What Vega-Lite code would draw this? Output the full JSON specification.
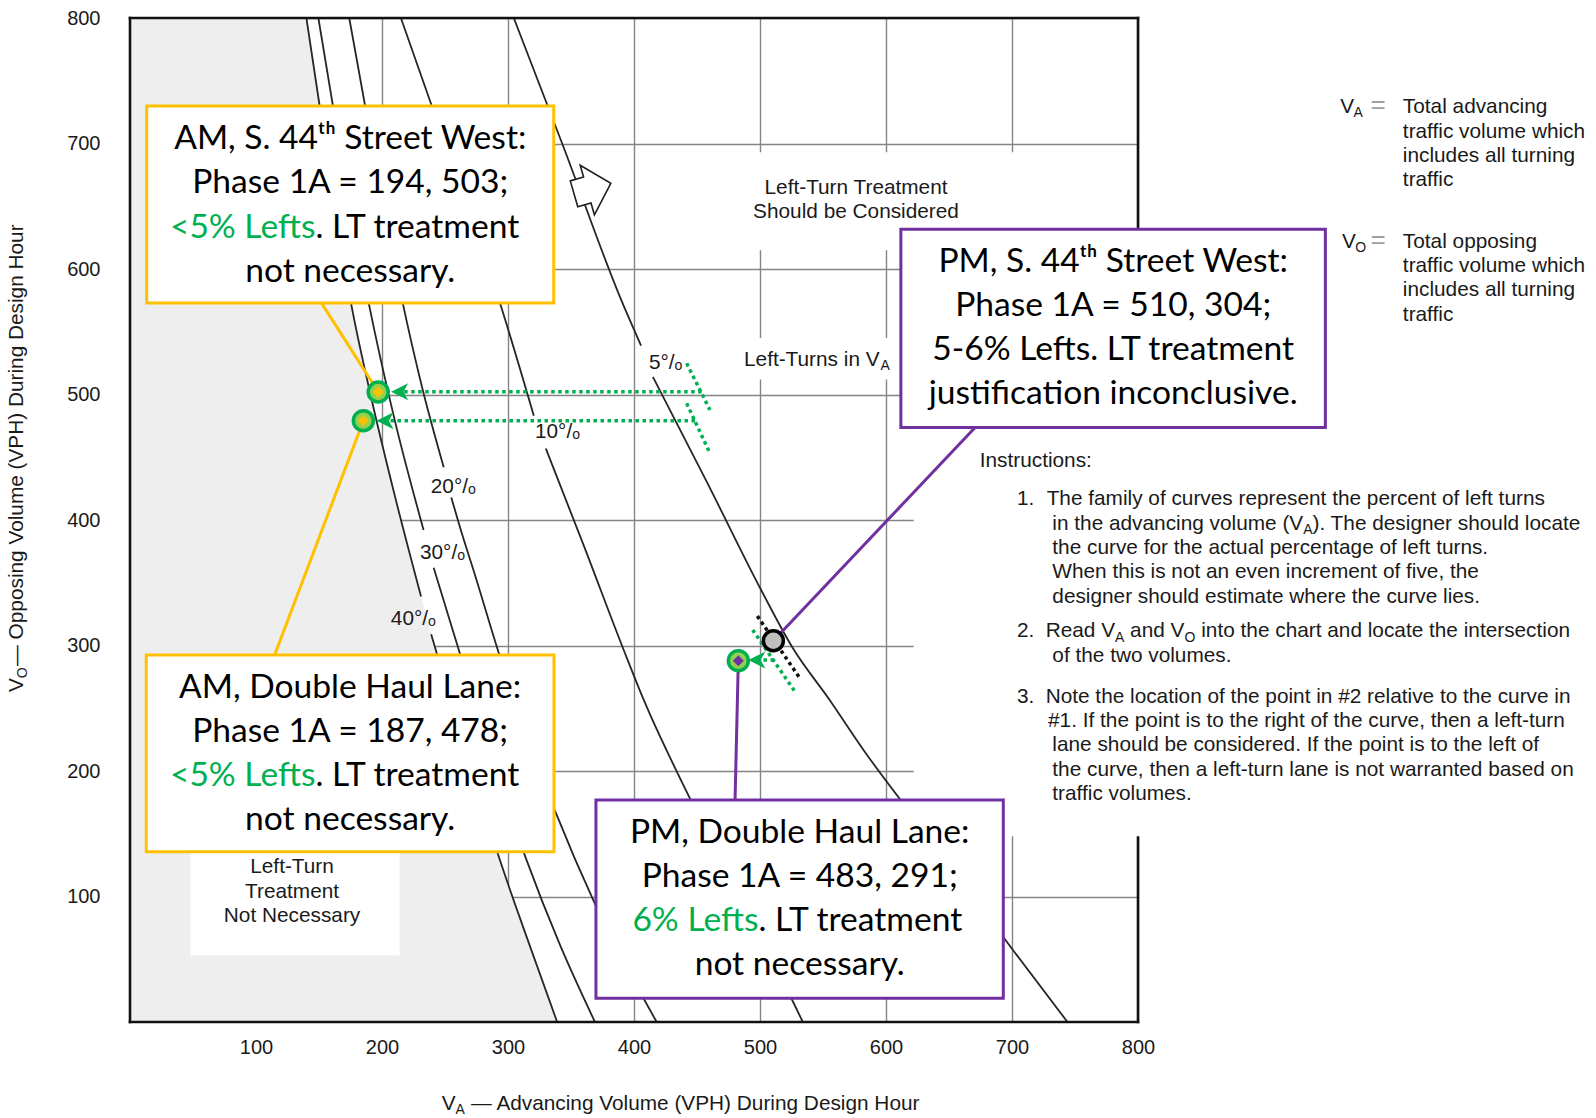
{
  "$schema": "https://vega.github.io/schema/vega-lite/v6.json",
  "width": 1008,
  "height": 1004,
  "autosize": {"type": "none"},
  "padding": {"left": 130, "top": 18, "right": 458, "bottom": 96},
  "background": "white",
  "config": {
    "view": {"stroke": null},
    "axis": {
      "grid": true, "ticks": false, "domain": false,
      "gridColor": "#858585", "gridWidth": 1.4, "gridOpacity": 1,
      "labelFont": "Liberation Sans", "labelFontSize": 20, "labelColor": "#1a1a1a",
      "title": null
    }
  },
  "encoding": {
    "x": {"field": "x", "type": "quantitative",
      "scale": {"domain": [0, 800], "nice": false, "zero": false},
      "axis": {"values": [100, 200, 300, 400, 500, 600, 700, 800], "labelPadding": 15, "labelFlush": false}},
    "y": {"field": "y", "type": "quantitative",
      "scale": {"domain": [0, 800], "nice": false, "zero": false},
      "axis": {"values": [100, 200, 300, 400, 500, 600, 700, 800], "labelPadding": 30, "labelFlush": false}}
  },
  "layer": [
    {
      "data": {"values": [
        {"x": 140, "y": 800}, {"x": 155, "y": 700}, {"x": 175, "y": 575}, {"x": 192, "y": 495},
        {"x": 210, "y": 420}, {"x": 231, "y": 339}, {"x": 239, "y": 309}, {"x": 246, "y": 285},
        {"x": 262, "y": 235}, {"x": 290, "y": 140}, {"x": 314, "y": 70}, {"x": 339, "y": 0}
      ]},
      "mark": {"type": "area", "orient": "horizontal", "color": "#eeeeee", "interpolate": "monotone"},
      "encoding": {"x2": {"datum": 0}}
    },
    {
      "data": {"values": [
        {"c": "40", "p": "a", "x": 140, "y": 800}, {"c": "40", "p": "a", "x": 155, "y": 700}, {"c": "40", "p": "a", "x": 175, "y": 575},
        {"c": "40", "p": "a", "x": 192, "y": 495}, {"c": "40", "p": "a", "x": 210, "y": 420}, {"c": "40", "p": "a", "x": 231, "y": 339},
        {"c": "40", "p": "b", "x": 239, "y": 309}, {"c": "40", "p": "b", "x": 246, "y": 285}, {"c": "40", "p": "b", "x": 262, "y": 235},
        {"c": "40", "p": "b", "x": 290, "y": 140}, {"c": "40", "p": "b", "x": 314, "y": 70}, {"c": "40", "p": "b", "x": 339, "y": 0},
        {"c": "30", "p": "a", "x": 149.5, "y": 800}, {"c": "30", "p": "a", "x": 166, "y": 700}, {"c": "30", "p": "a", "x": 189, "y": 575},
        {"c": "30", "p": "a", "x": 210, "y": 480}, {"c": "30", "p": "a", "x": 233, "y": 392},
        {"c": "30", "p": "b", "x": 241, "y": 362}, {"c": "30", "p": "b", "x": 262, "y": 293}, {"c": "30", "p": "b", "x": 287, "y": 210},
        {"c": "30", "p": "b", "x": 314, "y": 131}, {"c": "30", "p": "b", "x": 341, "y": 62}, {"c": "30", "p": "b", "x": 369, "y": 0},
        {"c": "20", "p": "a", "x": 174, "y": 800}, {"c": "20", "p": "a", "x": 192, "y": 700}, {"c": "20", "p": "a", "x": 216, "y": 575},
        {"c": "20", "p": "a", "x": 232, "y": 505}, {"c": "20", "p": "a", "x": 249, "y": 442},
        {"c": "20", "p": "b", "x": 255, "y": 418}, {"c": "20", "p": "b", "x": 265, "y": 384}, {"c": "20", "p": "b", "x": 272, "y": 362},
        {"c": "20", "p": "b", "x": 293, "y": 293}, {"c": "20", "p": "b", "x": 314, "y": 230}, {"c": "20", "p": "b", "x": 337, "y": 169},
        {"c": "20", "p": "b", "x": 370, "y": 92}, {"c": "20", "p": "b", "x": 418, "y": 0},
        {"c": "10", "p": "a", "x": 215, "y": 800}, {"c": "10", "p": "a", "x": 250, "y": 700}, {"c": "10", "p": "a", "x": 293.7, "y": 572.7},
        {"c": "10", "p": "a", "x": 320.5, "y": 483},
        {"c": "10", "p": "b", "x": 330, "y": 457}, {"c": "10", "p": "b", "x": 360, "y": 380}, {"c": "10", "p": "b", "x": 392, "y": 296},
        {"c": "10", "p": "b", "x": 408, "y": 256}, {"c": "10", "p": "b", "x": 444, "y": 179}, {"c": "10", "p": "b", "x": 490, "y": 90},
        {"c": "10", "p": "b", "x": 534, "y": 0},
        {"c": "5", "p": "a", "x": 304.6, "y": 800}, {"c": "5", "p": "a", "x": 343, "y": 700}, {"c": "5", "p": "a", "x": 390, "y": 575},
        {"c": "5", "p": "a", "x": 405.6, "y": 539},
        {"c": "5", "p": "b", "x": 415, "y": 514}, {"c": "5", "p": "b", "x": 458, "y": 430}, {"c": "5", "p": "b", "x": 501, "y": 344},
        {"c": "5", "p": "b", "x": 526, "y": 298}, {"c": "5", "p": "b", "x": 555, "y": 257}, {"c": "5", "p": "b", "x": 582, "y": 217},
        {"c": "5", "p": "b", "x": 642, "y": 137}, {"c": "5", "p": "b", "x": 701, "y": 57}, {"c": "5", "p": "b", "x": 744, "y": 0}
      ]},
      "mark": {"type": "line", "interpolate": "monotone", "color": "#262626", "strokeWidth": 1.8},
      "encoding": {"detail": [{"field": "c"}, {"field": "p"}]}
    },
    {
      "data": {"values": [
        {"x": 0, "y": 0, "x2": 800, "y2": 0},
        {"x": 0, "y": 800, "x2": 800, "y2": 800},
        {"x": 0, "y": 0, "x2": 0, "y2": 800},
        {"x": 800, "y": 0, "x2": 800, "y2": 800}
      ]},
      "mark": {"type": "rule", "color": "#111111", "strokeWidth": 2.6, "strokeCap": "square"},
      "encoding": {"x2": {"field": "x2"}, "y2": {"field": "y2"}}
    },
    {
      "data": {"values": [
        {"x": 48, "x2": 214, "y": 53, "y2": 140},
        {"x": 490, "x2": 712, "y": 615, "y2": 693},
        {"x": 481, "x2": 608, "y": 512, "y2": 545},
        {"x": 622, "x2": 1180, "y": 148, "y2": 473.7}
      ]},
      "mark": {"type": "rect", "color": "white"},
      "encoding": {"x2": {"field": "x2"}, "y2": {"field": "y2"}}
    },
    {
      "data": {"values": [
        {"x": 150.6, "y": 575, "x2": 197, "y2": 502},
        {"x": 114.8, "y": 292.4, "x2": 185.2, "y2": 479.1}
      ]},
      "mark": {"type": "rule", "color": "#FFC000", "strokeWidth": 3},
      "encoding": {"x2": {"field": "x2"}, "y2": {"field": "y2"}}
    },
    {
      "data": {"values": [
        {"x": 670.7, "y": 473.7, "x2": 510.6, "y2": 303.8},
        {"x": 480.2, "y": 176.9, "x2": 482.8, "y2": 287.9}
      ]},
      "mark": {"type": "rule", "color": "#7030A0", "strokeWidth": 3},
      "encoding": {"x2": {"field": "x2"}, "y2": {"field": "y2"}}
    },
    {
      "data": {"values": [
        {"x": 13.25, "x2": 336.3, "y": 572.9, "y2": 729.9},
        {"x": 12.9, "x2": 336.5, "y": 135.7, "y2": 292.4}
      ]},
      "mark": {"type": "rect", "fill": "white", "stroke": "#FFC000", "strokeWidth": 3},
      "encoding": {"x2": {"field": "x2"}, "y2": {"field": "y2"}}
    },
    {
      "data": {"values": [
        {"x": 611.8, "x2": 948.7, "y": 473.7, "y2": 631.6},
        {"x": 369.8, "x2": 693.1, "y": 18.9, "y2": 176.9}
      ]},
      "mark": {"type": "rect", "fill": "white", "stroke": "#7030A0", "strokeWidth": 3},
      "encoding": {"x2": {"field": "x2"}, "y2": {"field": "y2"}}
    },
    {
      "data": {"values": [
        {"x": 453.7, "y": 502.2, "x2": 213, "y2": 502.2},
        {"x": 448.4, "y": 479.1, "x2": 201, "y2": 479.1},
        {"x": 441.8, "y": 524.9, "x2": 460.3, "y2": 487.6},
        {"x": 441.8, "y": 493, "x2": 460.3, "y2": 453.1},
        {"x": 494.2, "y": 312.4, "x2": 527.8, "y2": 263.2},
        {"x": 511.1, "y": 288.4, "x2": 498, "y2": 288.4}
      ]},
      "mark": {"type": "rule", "color": "#00B050", "strokeWidth": 3.5, "strokeDash": [3.5, 3.5]},
      "encoding": {"x2": {"field": "x2"}, "y2": {"field": "y2"}}
    },
    {
      "data": {"values": [
        {"x": 497.9, "y": 323.5, "x2": 531.7, "y2": 273.9}
      ]},
      "mark": {"type": "rule", "color": "#111111", "strokeWidth": 3.5, "strokeDash": [3.5, 3.5]},
      "encoding": {"x2": {"field": "x2"}, "y2": {"field": "y2"}}
    },
    {
      "data": {"values": [
        {"x": 214, "y": 502.2}, {"x": 202.4, "y": 479.1}, {"x": 497.5, "y": 288.4}
      ]},
      "mark": {"type": "point", "shape": "M-1,0L1,-1L0.45,0L1,1Z", "filled": true, "color": "#00B050", "size": 289, "opacity": 1}
    },
    {
      "data": {"values": [{"x": 367, "y": 664.1}]},
      "mark": {"type": "point", "shape": "M-0.742,-0.523L-0.207,-0.523L-0.207,-1L0.742,0L-0.207,1L-0.207,0.523L-0.742,0.523Z",
        "filled": true, "fill": "white", "stroke": "#1f1f1f", "strokeWidth": 1.6, "size": 2663, "angle": 344, "opacity": 1}
    },
    {
      "data": {"values": [
        {"x": 197, "y": 502}, {"x": 185.2, "y": 479.1}, {"x": 482.8, "y": 287.9}
      ]},
      "mark": {"type": "point", "shape": "circle", "filled": true, "fill": "#92D050", "stroke": "#00B050", "strokeWidth": 3.5, "size": 400, "opacity": 1}
    },
    {
      "data": {"values": [{"x": 510.6, "y": 303.8}]},
      "mark": {"type": "point", "shape": "circle", "filled": true, "fill": "#BFBFBF", "stroke": "#000000", "strokeWidth": 3.5, "size": 400, "opacity": 1}
    },
    {
      "data": {"values": [{"x": 197, "y": 502}, {"x": 185.2, "y": 479.1}]},
      "mark": {"type": "point", "shape": "diamond", "filled": true, "color": "#FFC000", "size": 120, "opacity": 1}
    },
    {
      "data": {"values": [{"x": 482.8, "y": 287.9}]},
      "mark": {"type": "point", "shape": "diamond", "filled": true, "color": "#7030A0", "size": 120, "opacity": 1}
    },
    {
      "data": {"values": [
        {"x": 174.8, "y": 695.6, "text": "AM, S. 44ᵗʰ Street West:"},
        {"x": 174.8, "y": 660.2, "text": "Phase 1A = 194, 503;"},
        {"x": 174.8, "y": 589.6, "text": "not necessary."},
        {"x": 174.7, "y": 258.2, "text": "AM, Double Haul Lane:"},
        {"x": 174.7, "y": 223.1, "text": "Phase 1A = 187, 478;"},
        {"x": 174.7, "y": 153.0, "text": "not necessary."},
        {"x": 780.3, "y": 597.4, "text": "PM, S. 44ᵗʰ Street West:"},
        {"x": 780.3, "y": 562.3, "text": "Phase 1A = 510, 304;"},
        {"x": 780.3, "y": 527.3, "text": "5-6% Lefts. LT treatment"},
        {"x": 780.3, "y": 492.2, "text": "justification inconclusive."},
        {"x": 531.5, "y": 142.6, "text": "PM, Double Haul Lane:"},
        {"x": 531.5, "y": 107.6, "text": "Phase 1A = 483, 291;"},
        {"x": 531.5, "y": 37.5, "text": "not necessary."}
      ]},
      "mark": {"type": "text", "font": "Lato", "fontSize": 33.6, "align": "center", "baseline": "alphabetic", "color": "#000000"},
      "encoding": {"text": {"field": "text"}}
    },
    {
      "data": {"values": [
        {"x": 147.2, "y": 624.7, "text": "<5% Lefts"},
        {"x": 147.2, "y": 188.0, "text": "<5% Lefts"},
        {"x": 498.8, "y": 72.5, "text": "6% Lefts"}
      ]},
      "mark": {"type": "text", "font": "Lato", "fontSize": 33.6, "align": "right", "baseline": "alphabetic", "color": "#00B050"},
      "encoding": {"text": {"field": "text"}}
    },
    {
      "data": {"values": [
        {"x": 147.2, "y": 624.7, "text": ". LT treatment"},
        {"x": 147.2, "y": 188.0, "text": ". LT treatment"},
        {"x": 498.8, "y": 72.5, "text": ". LT treatment"}
      ]},
      "mark": {"type": "text", "font": "Lato", "fontSize": 33.6, "align": "left", "baseline": "alphabetic", "color": "#000000"},
      "encoding": {"text": {"field": "text"}}
    },
    {
      "data": {"values": [
        {"x": 960.5, "y": 724.1, "text": "V"},
        {"x": 1010.2, "y": 724.1, "text": "Total advancing"},
        {"x": 1010.2, "y": 704.6, "text": "traffic volume which"},
        {"x": 1010.2, "y": 685.3, "text": "includes all turning"},
        {"x": 1010.2, "y": 665.8, "text": "traffic"},
        {"x": 961.9, "y": 617.1, "text": "V"},
        {"x": 1010.2, "y": 617.1, "text": "Total opposing"},
        {"x": 1010.2, "y": 597.7, "text": "traffic volume which"},
        {"x": 1010.2, "y": 578.2, "text": "includes all turning"},
        {"x": 1010.2, "y": 558.8, "text": "traffic"},
        {"x": 674.4, "y": 442.6, "text": "Instructions:"},
        {"x": 704, "y": 412.0, "text": "1."},
        {"x": 727.5, "y": 412.0, "text": "The family of curves represent the percent of left turns"},
        {"x": 732, "y": 392.4, "text": "in the advancing volume (V"},
        {"x": 938.5, "y": 392.4, "text": ").  The designer should locate"},
        {"x": 732, "y": 372.9, "text": "the curve for the actual percentage of left turns."},
        {"x": 732, "y": 353.5, "text": "When this is not an even increment of five, the"},
        {"x": 732, "y": 334.0, "text": "designer should estimate where the curve lies."},
        {"x": 704, "y": 306.5, "text": "2."},
        {"x": 726.7, "y": 306.5, "text": "Read V"},
        {"x": 793.7, "y": 306.5, "text": "and V"},
        {"x": 850.2, "y": 306.5, "text": "into the chart and locate the intersection"},
        {"x": 732, "y": 286.9, "text": "of the two volumes."},
        {"x": 704, "y": 254.5, "text": "3."},
        {"x": 726.7, "y": 254.5, "text": "Note the location of the point in #2 relative to the curve in"},
        {"x": 728.6, "y": 235.1, "text": "#1.  If the point is to the right of the curve, then a left-turn"},
        {"x": 732, "y": 215.6, "text": "lane should be considered.  If the point is to the left of"},
        {"x": 732, "y": 196.2, "text": "the curve, then a left-turn lane is not warranted based on"},
        {"x": 732, "y": 176.7, "text": "traffic volumes."},
        {"x": 487.3, "y": 523.1, "text": "Left-Turns in V"},
        {"x": 247.4, "y": -69.9, "text": "V"},
        {"x": 270.6, "y": -69.9, "text": "— Advancing Volume (VPH) During Design Hour"}
      ]},
      "mark": {"type": "text", "font": "Liberation Sans", "fontSize": 20.8, "align": "left", "baseline": "alphabetic", "color": "#1a1a1a"},
      "encoding": {"text": {"field": "text"}}
    },
    {
      "data": {"values": [
        {"x": 576.2, "y": 660.0, "text": "Left-Turn Treatment"},
        {"x": 576.2, "y": 640.6, "text": "Should be Considered"},
        {"x": 128.6, "y": 119.0, "text": "Left-Turn"},
        {"x": 128.6, "y": 98.8, "text": "Treatment"},
        {"x": 128.6, "y": 79.4, "text": "Not Necessary"},
        {"x": 224.9, "y": 316.3, "text": "40°/ₒ"},
        {"x": 248, "y": 368.9, "text": "30°/ₒ"},
        {"x": 256.6, "y": 421.5, "text": "20°/ₒ"},
        {"x": 339.3, "y": 465.3, "text": "10°/ₒ"},
        {"x": 425.1, "y": 520.3, "text": "5°/ₒ"}
      ]},
      "mark": {"type": "text", "font": "Liberation Sans", "fontSize": 20.8, "align": "center", "baseline": "alphabetic", "color": "#1a1a1a"},
      "encoding": {"text": {"field": "text"}}
    },
    {
      "data": {"values": [
        {"x": 971.0, "y": 721.5, "text": "A"},
        {"x": 972.5, "y": 613.5, "text": "O"},
        {"x": 931.1, "y": 388.8, "text": "A"},
        {"x": 781.7, "y": 302.9, "text": "A"},
        {"x": 836.9, "y": 302.9, "text": "O"},
        {"x": 595.6, "y": 519.5, "text": "A"},
        {"x": 258.4, "y": -73.3, "text": "A"}
      ]},
      "mark": {"type": "text", "font": "Liberation Sans", "fontSize": 14, "align": "left", "baseline": "alphabetic", "color": "#1a1a1a"},
      "encoding": {"text": {"field": "text"}}
    },
    {
      "data": {"values": [
        {"x": 984.6, "y": 724.1, "text": "="},
        {"x": 984.6, "y": 617.1, "text": "="}
      ]},
      "mark": {"type": "text", "font": "Liberation Sans", "fontSize": 26, "align": "left", "baseline": "alphabetic", "color": "#a0a0a0"},
      "encoding": {"text": {"field": "text"}}
    },
    {
      "data": {"values": [
        {"x": -85.2, "y": 262.9, "text": "V"},
        {"x": -85.2, "y": 283.7, "text": "— Opposing Volume (VPH) During Design Hour"}
      ]},
      "mark": {"type": "text", "font": "Liberation Sans", "fontSize": 20.8, "align": "left", "baseline": "alphabetic", "angle": 270, "color": "#1a1a1a"},
      "encoding": {"text": {"field": "text"}}
    },
    {
      "data": {"values": [{"x": -82.0, "y": 273.9, "text": "O"}]},
      "mark": {"type": "text", "font": "Liberation Sans", "fontSize": 14, "align": "left", "baseline": "alphabetic", "angle": 270, "color": "#1a1a1a"},
      "encoding": {"text": {"field": "text"}}
    }
  ]
}
